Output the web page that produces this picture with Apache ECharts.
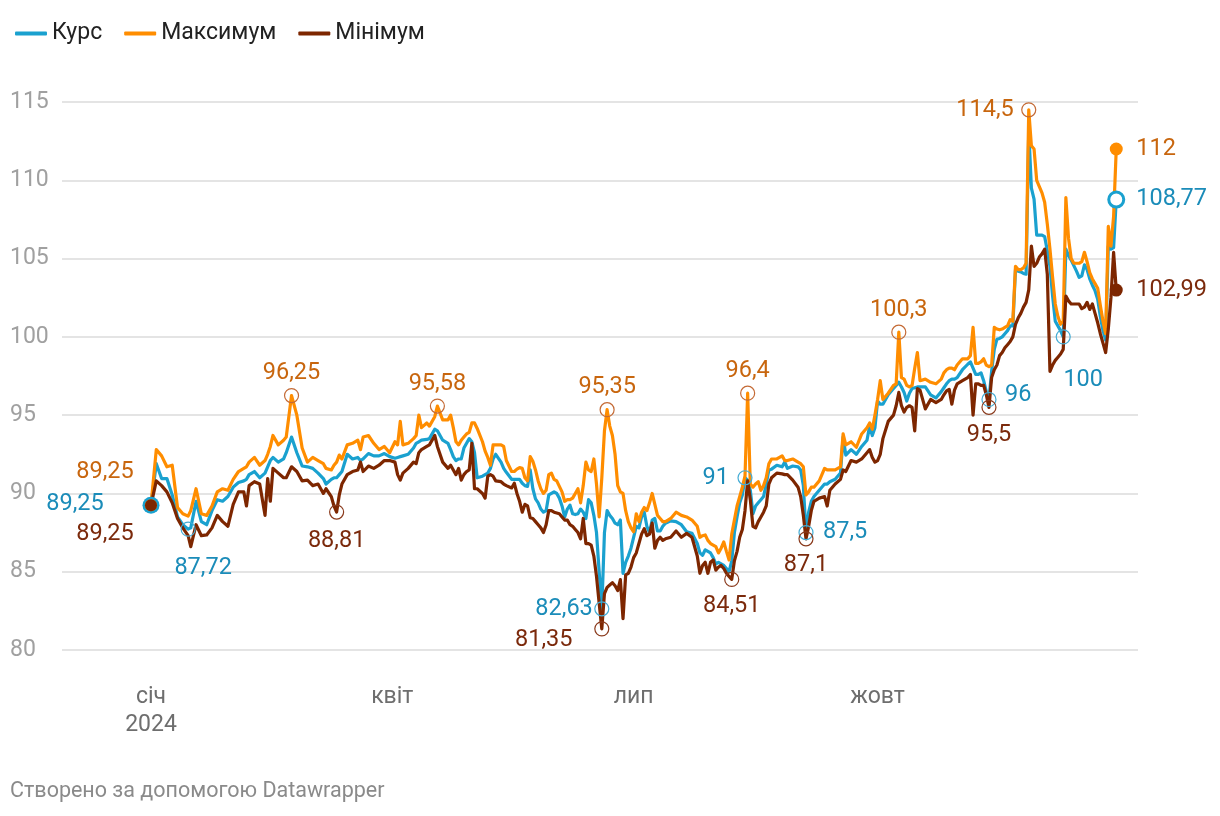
<!DOCTYPE html>
<html><head><meta charset="utf-8">
<script src="https://cdn.jsdelivr.net/npm/echarts@6/dist/echarts.min.js"></script>
<style>html,body{margin:0;padding:0;background:#fff;}#c{width:1220px;height:816px;}</style>
</head><body><div id="c"></div>
<script>
// ---------- DATA ----------
const dates = [
 // Jan
 '2024-01-01','2024-01-03','2024-01-05','2024-01-07','2024-01-09','2024-01-11','2024-01-13','2024-01-15','2024-01-16','2024-01-18','2024-01-20','2024-01-22','2024-01-24','2024-01-26','2024-01-28','2024-01-30',
 // Feb
 '2024-02-01','2024-02-03','2024-02-05','2024-02-06','2024-02-07','2024-02-09','2024-02-11','2024-02-13','2024-02-14','2024-02-15','2024-02-16','2024-02-18','2024-02-20','2024-02-21','2024-02-23','2024-02-25','2024-02-27','2024-02-29',
 // Mar
 '2024-03-02','2024-03-04','2024-03-06','2024-03-07','2024-03-09','2024-03-10','2024-03-11','2024-03-12','2024-03-13','2024-03-15','2024-03-17','2024-03-19','2024-03-20','2024-03-21','2024-03-23','2024-03-25','2024-03-27','2024-03-29','2024-03-31',
 // Apr
 '2024-04-02','2024-04-03','2024-04-04','2024-04-05','2024-04-07','2024-04-09','2024-04-10','2024-04-11','2024-04-12','2024-04-14','2024-04-15','2024-04-17','2024-04-18','2024-04-20','2024-04-22','2024-04-23','2024-04-24','2024-04-25','2024-04-26','2024-04-27','2024-04-28','2024-04-29','2024-04-30',
 // May
 '2024-05-01','2024-05-02','2024-05-03','2024-05-05','2024-05-06','2024-05-07','2024-05-08','2024-05-09','2024-05-10','2024-05-12','2024-05-13','2024-05-14','2024-05-16','2024-05-17','2024-05-18','2024-05-19','2024-05-20','2024-05-21','2024-05-22','2024-05-23','2024-05-24','2024-05-25','2024-05-26','2024-05-27','2024-05-28','2024-05-29','2024-05-30','2024-05-31',
 // Jun
 '2024-06-01','2024-06-02','2024-06-03','2024-06-04','2024-06-05','2024-06-06','2024-06-07','2024-06-08','2024-06-09','2024-06-10','2024-06-11','2024-06-12','2024-06-13','2024-06-14','2024-06-15','2024-06-16','2024-06-17','2024-06-18','2024-06-19','2024-06-20','2024-06-21','2024-06-22','2024-06-23','2024-06-24','2024-06-25','2024-06-26','2024-06-27','2024-06-28','2024-06-29','2024-06-30',
 // Jul
 '2024-07-01','2024-07-02','2024-07-03','2024-07-04','2024-07-05','2024-07-06','2024-07-07','2024-07-08','2024-07-09','2024-07-10','2024-07-11','2024-07-12','2024-07-13','2024-07-15','2024-07-17','2024-07-19','2024-07-21','2024-07-23','2024-07-25','2024-07-26','2024-07-27','2024-07-28','2024-07-29','2024-07-30','2024-07-31',
 // Aug
 '2024-08-01','2024-08-02','2024-08-03','2024-08-04','2024-08-05','2024-08-06','2024-08-07','2024-08-08','2024-08-09','2024-08-10','2024-08-11','2024-08-12','2024-08-13','2024-08-14','2024-08-15','2024-08-16','2024-08-17','2024-08-18','2024-08-19','2024-08-20','2024-08-21','2024-08-22','2024-08-24','2024-08-26','2024-08-27','2024-08-28','2024-08-30',
 // Sep
 '2024-09-01','2024-09-02','2024-09-03','2024-09-04','2024-09-05','2024-09-06','2024-09-07','2024-09-09','2024-09-11','2024-09-12','2024-09-13','2024-09-15','2024-09-17','2024-09-18','2024-09-19','2024-09-21','2024-09-23','2024-09-25','2024-09-27','2024-09-28','2024-09-29','2024-09-30',
 // Oct
 '2024-10-01','2024-10-02','2024-10-03','2024-10-05','2024-10-07','2024-10-08','2024-10-09','2024-10-10','2024-10-11','2024-10-12','2024-10-13','2024-10-14','2024-10-15','2024-10-16','2024-10-17','2024-10-19','2024-10-21','2024-10-23','2024-10-25','2024-10-26','2024-10-27','2024-10-28','2024-10-29','2024-10-30','2024-10-31',
 // Nov
 '2024-11-02','2024-11-04','2024-11-05','2024-11-06','2024-11-07','2024-11-08','2024-11-09','2024-11-10','2024-11-11','2024-11-12','2024-11-13','2024-11-14','2024-11-15','2024-11-16','2024-11-17','2024-11-18','2024-11-19','2024-11-20','2024-11-21','2024-11-22','2024-11-23','2024-11-24','2024-11-25','2024-11-26','2024-11-27','2024-11-28','2024-11-29','2024-11-30',
 // Dec
 '2024-12-01','2024-12-02','2024-12-03','2024-12-04','2024-12-05','2024-12-06','2024-12-07','2024-12-08','2024-12-09','2024-12-10','2024-12-11','2024-12-12','2024-12-13','2024-12-14','2024-12-15','2024-12-16','2024-12-17','2024-12-18','2024-12-19','2024-12-20','2024-12-21','2024-12-22','2024-12-23','2024-12-24','2024-12-25','2024-12-26','2024-12-27','2024-12-28','2024-12-29','2024-12-30'
];

const kurs = [
 89.25,91.9,90.95,90.95,89.9,88.5,88.0,87.72,87.8,89.5,88.2,88.0,88.9,89.6,89.5,89.8,
 90.4,90.7,90.8,90.9,91.2,91.4,91.0,91.3,91.7,92.1,92.3,92.0,92.2,92.6,93.6,92.6,91.75,91.7,
 91.6,91.3,90.95,90.6,90.9,91.0,91.0,91.2,91.4,92.5,92.2,92.3,92.1,92.2,92.55,92.4,92.4,92.55,92.35,
 92.25,92.3,92.35,92.4,92.5,92.9,93.2,93.3,93.4,93.45,93.5,94.1,94.0,93.4,93.2,92.8,92.35,92.1,92.2,92.2,92.9,93.2,93.5,
 93.3,92.6,91.0,91.1,91.2,91.3,91.6,92.2,92.5,92.0,91.6,91.35,90.9,90.9,90.9,90.9,90.65,90.5,90.45,91.5,90.3,89.65,89.4,89.0,88.8,88.9,89.9,90.0,
 90.1,90.0,89.7,89.2,88.5,89.0,89.25,88.7,88.65,88.7,89.0,88.8,88.4,89.6,89.4,88.6,87.5,85.0,82.63,87.5,88.9,88.6,88.4,88.1,88.0,88.3,84.9,85.6,86.0,86.5,
 87.2,87.9,87.8,88.5,88.8,87.9,87.5,88.3,88.4,87.6,87.6,87.9,88.1,88.25,88.2,88.0,87.55,87.45,86.8,86.2,86.05,86.4,86.3,86.2,85.9,
 85.5,85.6,85.5,85.4,85.2,85.0,85.7,87.5,88.5,89.4,89.9,91,90.85,90.2,88.7,89.2,89.4,89.6,89.8,90.6,91.5,91.55,91.8,91.7,92.0,91.6,91.75,
 91.7,91.5,90.5,87.5,88.8,89.5,89.8,90.2,90.6,90.6,90.75,90.9,91.3,93.6,92.45,92.8,92.5,93.0,93.4,94.3,93.7,94.2,
 95.9,95.7,95.7,96.3,96.7,96.9,97.1,96.8,96.45,95.9,96.4,96.7,96.75,96.8,96.8,96.8,96.3,96.1,96.5,96.75,97.0,97.2,97.3,97.3,97.4,
 97.9,98.25,98.4,98.0,97.6,97.6,97.7,97.2,96.5,96,97.8,99.2,99.85,99.9,100.0,100.2,100.4,100.7,100.7,104.3,104.2,104.15,104.05,104.0,113.2,109.5,108.8,106.5,
 106.5,106.5,106.4,105.5,104.5,102.6,101.0,100.7,100.4,100,105.6,105.2,104.9,104.55,104.2,103.8,103.9,104.6,104.3,103.7,103.3,102.95,102.4,101.3,100.4,99.8,105.8,105.6,105.7,108.77
];

const maksymum = [
 89.25,92.8,92.4,91.7,91.8,89.1,88.7,88.55,88.9,90.3,88.7,88.6,89.2,90.1,90.3,90.2,
 90.9,91.4,91.6,91.7,92.0,92.3,91.8,92.1,92.5,93.0,93.7,93.1,93.4,93.6,96.25,95.0,92.9,92.0,
 92.3,92.1,91.9,91.6,91.5,91.8,92.0,92.45,92.2,93.1,93.2,93.4,92.8,93.6,93.7,93.2,92.8,93.0,92.6,
 93.3,93.1,94.6,93.1,93.2,93.5,93.7,95.0,94.2,94.5,94.3,94.9,95.58,94.7,94.7,95.0,94.2,93.3,93.1,93.4,93.6,93.8,93.9,
 94.5,94.5,94.15,93.3,92.7,92.3,91.8,93.1,93.1,93.1,93.0,92.1,91.4,91.4,91.55,91.65,91.6,91.0,90.8,92.35,92.05,91.5,90.8,90.3,90.0,90.2,91.2,91.3,
 90.9,90.8,90.45,90.1,89.5,89.6,89.6,89.7,90.0,90.3,89.4,90.5,92.0,91.5,91.4,92.2,90.6,88.5,91.0,94.0,95.35,94.3,93.7,92.5,90.5,90.1,90.0,88.9,88.2,87.8,
 87.55,88.7,88.2,88.8,89.1,88.9,89.4,90.0,89.3,88.6,88.4,88.2,88.2,88.4,88.8,88.6,88.5,88.3,87.9,87.2,87.3,87.35,87.0,86.8,86.7,
 86.6,86.2,86.5,86.9,86.3,85.75,87.4,88.3,89.2,89.8,90.4,91.1,96.4,90.6,90.4,90.6,90.75,90.2,90.5,91.0,91.9,92.2,92.2,92.4,92.1,92.1,92.2,
 92.0,91.9,91.7,89.9,90.1,90.4,90.4,90.8,91.6,91.5,91.5,91.5,91.7,93.8,93.1,93.3,92.95,93.8,94.2,94.5,94.1,95.0,
 96.0,97.2,96.0,96.4,96.9,97.0,100.3,97.4,97.3,96.9,96.8,96.9,98.0,99.0,97.2,97.3,97.1,97.0,97.3,97.7,97.9,98.0,98.0,97.9,98.2,
 98.6,98.6,98.8,100.6,98.3,98.3,98.4,98.6,98.2,98.1,98.2,100.6,100.5,100.45,100.5,100.6,100.7,101.1,101.0,104.5,104.3,104.3,104.4,104.7,114.5,112.2,112.0,110.0,
 109.6,109.2,108.6,107.2,105.6,103.8,102.1,101.3,100.8,101.0,108.9,106.3,105.0,104.7,104.7,104.7,104.8,105.4,104.8,104.1,103.7,103.4,103.1,102.0,101.0,100.2,107.05,105.8,107.7,112
];

const minimum = [
 89.25,90.8,90.5,90.1,89.4,88.4,87.8,87.3,86.6,88.0,87.3,87.35,87.8,88.6,88.2,87.9,
 89.3,90.1,90.1,89.2,90.5,90.75,90.6,88.6,90.95,89.5,91.6,91.3,91.0,91.0,91.7,91.4,90.8,90.85,
 90.5,90.6,90.0,90.3,89.8,89.2,88.81,89.9,90.6,91.2,91.4,91.5,92.0,91.4,91.75,91.6,91.8,92.1,92.1,
 92.0,91.2,90.85,91.3,91.6,92.0,91.9,92.6,92.8,93.0,93.1,93.7,93.0,92.0,91.6,91.8,91.5,91.2,91.6,90.85,91.2,91.4,91.5,
 93.2,90.3,90.3,90.0,89.7,91.1,91.2,91.1,90.8,90.75,90.6,90.5,90.35,90.65,90.0,89.5,88.8,89.3,89.2,88.45,88.4,88.2,88.0,87.8,87.5,88.0,88.9,88.9,
 88.8,88.75,88.7,88.5,88.3,88.3,88.0,87.9,87.7,87.5,87.1,88.4,86.8,86.8,86.7,86.0,84.7,83.0,81.35,83.6,84.0,84.15,84.3,84.1,83.8,84.5,82.0,84.8,84.9,85.3,
 85.9,86.2,86.8,87.4,87.75,87.3,87.4,88.1,86.5,87.0,87.2,87.0,87.1,87.2,87.6,87.2,87.45,87.2,86.0,84.9,85.4,85.6,84.9,85.6,85.75,
 85.1,85.3,85.4,85.2,84.9,84.7,84.51,85.7,86.3,87.2,87.7,88.9,90.8,89.6,87.9,87.8,88.2,88.5,88.8,89.2,90.6,91.0,91.3,91.25,91.2,91.2,90.85,
 90.4,89.8,88.6,87.1,87.9,88.9,89.5,89.7,89.8,89.2,90.2,90.6,90.9,91.5,91.4,92.1,92.0,92.2,92.6,92.8,92.3,92.0,
 92.1,92.5,93.5,94.6,95.0,95.6,96.45,95.6,95.2,95.5,95.6,95.5,94.0,96.7,96.6,95.4,96.0,95.8,96.0,96.3,96.55,96.65,95.7,96.6,97.0,
 97.2,97.4,97.6,95.0,97.0,97.0,96.9,96.9,96.3,95.5,97.4,97.9,98.2,98.8,99.0,99.3,99.5,99.7,100.0,100.8,101.2,101.5,101.9,102.2,103.0,105.8,104.5,104.7,
 105.1,105.3,105.6,104.0,97.8,98.2,98.5,98.7,98.9,99.2,102.6,102.3,102.1,102.1,102.1,102.1,101.8,101.9,102.2,101.75,102.1,101.5,100.9,100.2,99.6,99.0,100.5,102.5,105.4,102.99
];

const seriesNames = ['Курс', 'Максимум', 'Мінімум'];
const monthTickDates = ['2024-01-01', '2024-04-01', '2024-07-01', '2024-10-01'];
const monthTickLabels = ['січ\n2024', 'квіт', 'лип', 'жовт'];
const footerText = 'Створено за допомогою Datawrapper';

// annotations: [seriesIndex, date, kind, align, dx, dy]
const notes = [
 [0,'2024-01-01','start','center',-76,-1],
 [1,'2024-01-01','start','center',-46,-33],
 [2,'2024-01-01','start','center',-46,29],
 [0,'2024-01-15','ring','center',15,39],
 [2,'2024-03-11','ring','center',0,29],
 [1,'2024-02-23','ring','center',0,-22],
 [1,'2024-04-18','ring','center',0,-22],
 [1,'2024-06-21','ring','center',0,-23],
 [0,'2024-06-19','ring','right',-9,0],
 [2,'2024-06-19','ring','center',-58,11],
 [1,'2024-08-13','ring','center',0,-22],
 [0,'2024-08-12','ring','right',-16,0],
 [2,'2024-08-07','ring','center',0,27],
 [2,'2024-09-04','ring','center',0,26],
 [0,'2024-09-04','ring','left',17,0],
 [1,'2024-10-09','ring','center',0,-22],
 [0,'2024-11-12','ring','left',16,-4],
 [2,'2024-11-12','ring','center',0,28],
 [1,'2024-11-27','ring','right',-15,0],
 [0,'2024-12-10','ring','center',20,43],
 [0,'2024-12-30','endRing','left',20,0],
 [1,'2024-12-30','end','left',20,0],
 [2,'2024-12-30','end','left',20,0]
];

// ---------- STYLE ----------
const lineColors = ['#1aa1cf', '#ff8d00', '#7d2600'];
const labelColors = ['#1b8cb9', '#c8660e', '#7b2a0c'];
const ringColors = ['#45acd4', '#c46a35', '#8a3a1c'];
const FONT = 'Roboto';
const FS = 23;

function ts(s){ const p = s.split('-'); return new Date(+p[0], +p[1]-1, +p[2]).getTime(); }
function fmt(v){ return String(v).replace('.', ','); }
const valueSets = [kurs, maksymum, minimum];
const tickTs = monthTickDates.map(ts);

function markData(si){
  const arr = valueSets[si];
  return notes.filter(n => n[0] === si).map(n => {
    const i = dates.indexOf(n[1]);
    const v = arr[i];
    let size = 14, style;
    if (n[2] === 'ring') style = {color: 'rgba(0,0,0,0)', borderColor: ringColors[si], borderWidth: 1.2};
    else if (n[2] === 'start') { size = si === 0 ? 17 : 12; style = {color: lineColors[si], borderWidth: 0}; }
    else if (n[2] === 'end') { size = 13; style = {color: lineColors[si], borderWidth: 0}; }
    else { size = 15; style = {color: '#fff', borderColor: lineColors[si], borderWidth: 3}; }
    return {
      coord: [ts(n[1]), v], value: v, symbol: 'circle', symbolSize: size, itemStyle: style,
      label: {show: true, position: 'inside', align: n[3], verticalAlign: 'middle', offset: [n[4], n[5]],
        formatter: fmt(v), color: labelColors[si], fontSize: 23.5, fontFamily: FONT, textBorderWidth: 0}
    };
  });
}

const dayMs = 86400000;
const x0 = ts('2024-01-01');
const chart = echarts.init(document.getElementById('c'), null, {renderer: 'canvas'});
chart.setOption({
  animation: false,
  backgroundColor: '#ffffff',
  textStyle: {fontFamily: FONT},
  legend: {
    left: 10, top: 17, itemWidth: 32, itemHeight: 4, itemGap: 22, icon: 'roundRect',
    data: seriesNames,
    textStyle: {fontSize: FS, color: '#222', fontFamily: FONT}
  },
  grid: {left: 62, right: 82, top: 102, bottom: 166, containLabel: false},
  xAxis: {
    type: 'value',
    min: x0 - 33.56 * dayMs, max: x0 + 372.2 * dayMs,
    axisLine: {show: false}, axisTick: {show: false}, splitLine: {show: false},
    axisLabel: {
      customValues: tickTs,
      formatter: function(v){ const k = tickTs.indexOf(v); return k >= 0 ? monthTickLabels[k] : ''; },
      fontSize: FS, lineHeight: 28, color: '#6e6e6e', margin: 33, fontFamily: FONT
    }
  },
  yAxis: {
    type: 'value', min: 80, max: 115, interval: 5,
    axisLine: {show: false}, axisTick: {show: false},
    splitLine: {lineStyle: {color: '#e4e4e4', width: 2}},
    axisLabel: {align: 'left', margin: 52, fontSize: FS, color: '#a0a0a0', fontFamily: FONT}
  },
  series: valueSets.map((arr, si) => ({
    name: seriesNames[si], type: 'line', showSymbol: false, symbol: 'none',
    data: dates.map((d, i) => [ts(d), arr[i]]),
    lineStyle: {color: lineColors[si], width: 3.2, join: 'round'},
    itemStyle: {color: lineColors[si]},
    emphasis: {disabled: true},
    markPoint: {data: markData(si), silent: true, animation: false}
  })),
  graphic: [{
    type: 'text', left: 10, top: 781,
    style: {text: footerText, fontSize: 21.5, fill: '#8a8a8a', fontFamily: FONT}
  }]
});
</script>
</body></html>
